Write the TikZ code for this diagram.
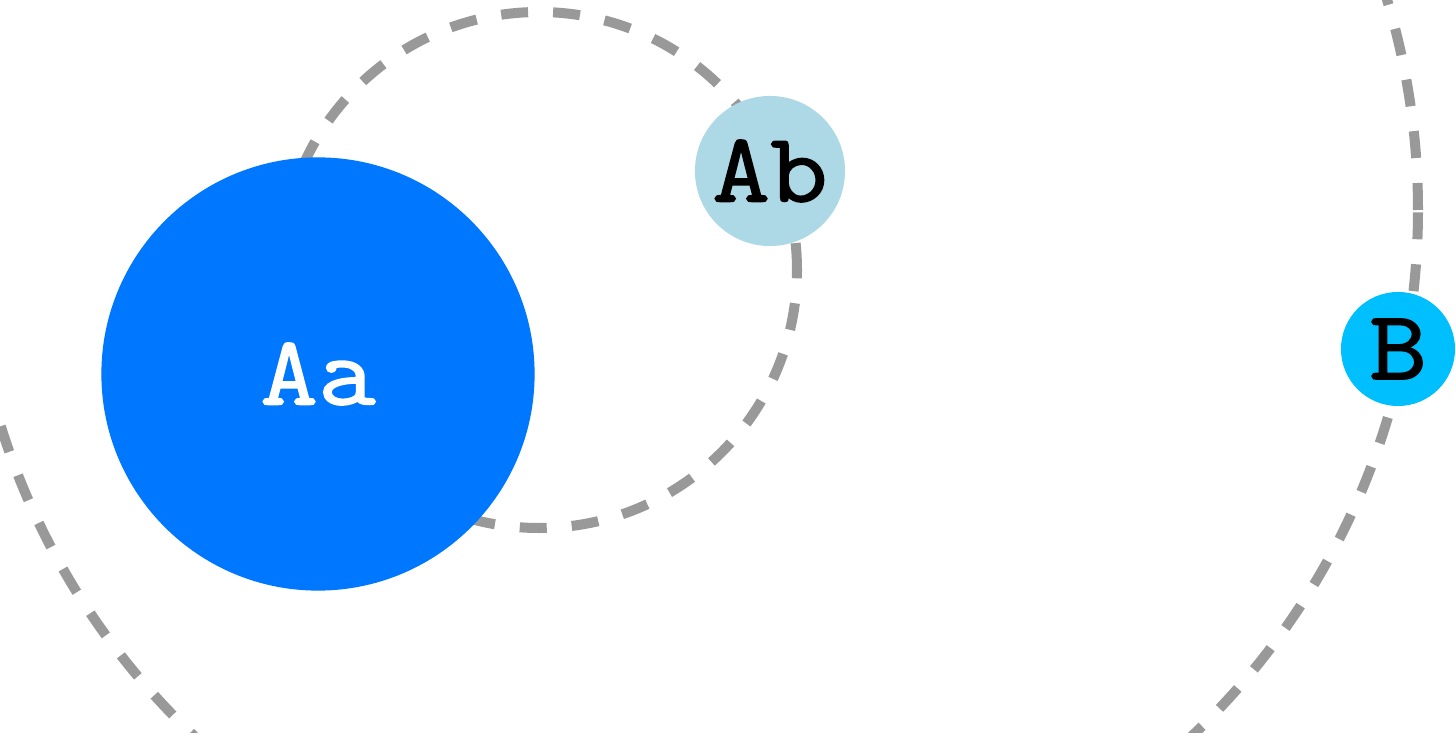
\documentclass[tikz,border=0pt]{standalone}
\usepackage{fontspec}
\usepackage{tikz}
\newfontfamily\labelfont{Latin Modern Mono}[FakeStretch=1.14, FakeBold=1.6]
\definecolor{primaryblue}{HTML}{0077FF}
\definecolor{lightblue}{HTML}{ADD8E6}
\definecolor{skyblue}{HTML}{00BFFF}
\definecolor{orbitgray}{HTML}{999999}
\tikzset{
  body/.style={circle, inner sep=0pt, text=black,
    font=\fontsize{28}{30}\selectfont\labelfont},
  primary/.style={body, fill=primaryblue, text=white, minimum size=4.33cm},
  companion/.style={body, fill=lightblue, minimum size=1.5cm},
  outerbody/.style={body, fill=skyblue, minimum size=1.14cm},
  orbit/.style={draw=orbitgray, line width=2.85pt, dash pattern=on 0.27cm off 0.25cm}
}
\begin{document}
\begin{tikzpicture}[x=0.01cm, y=0.01cm]
  \useasboundingbox (0,0) rectangle (1456,733);
  \clip (0,0) rectangle (1456,733);
  \coordinate (innerc) at (539,463);
  \coordinate (outerc) at (693,523);
  \draw[orbit] (outerc) circle (725);
  \draw[orbit] (innerc) circle (258);

  \node[primary] (Aa) at (318,359) {Aa};
  \node[companion] (Ab) at (770,562) {Ab};
  \node[outerbody] (B) at (1398,384) {B};
\end{tikzpicture}
\end{document}
